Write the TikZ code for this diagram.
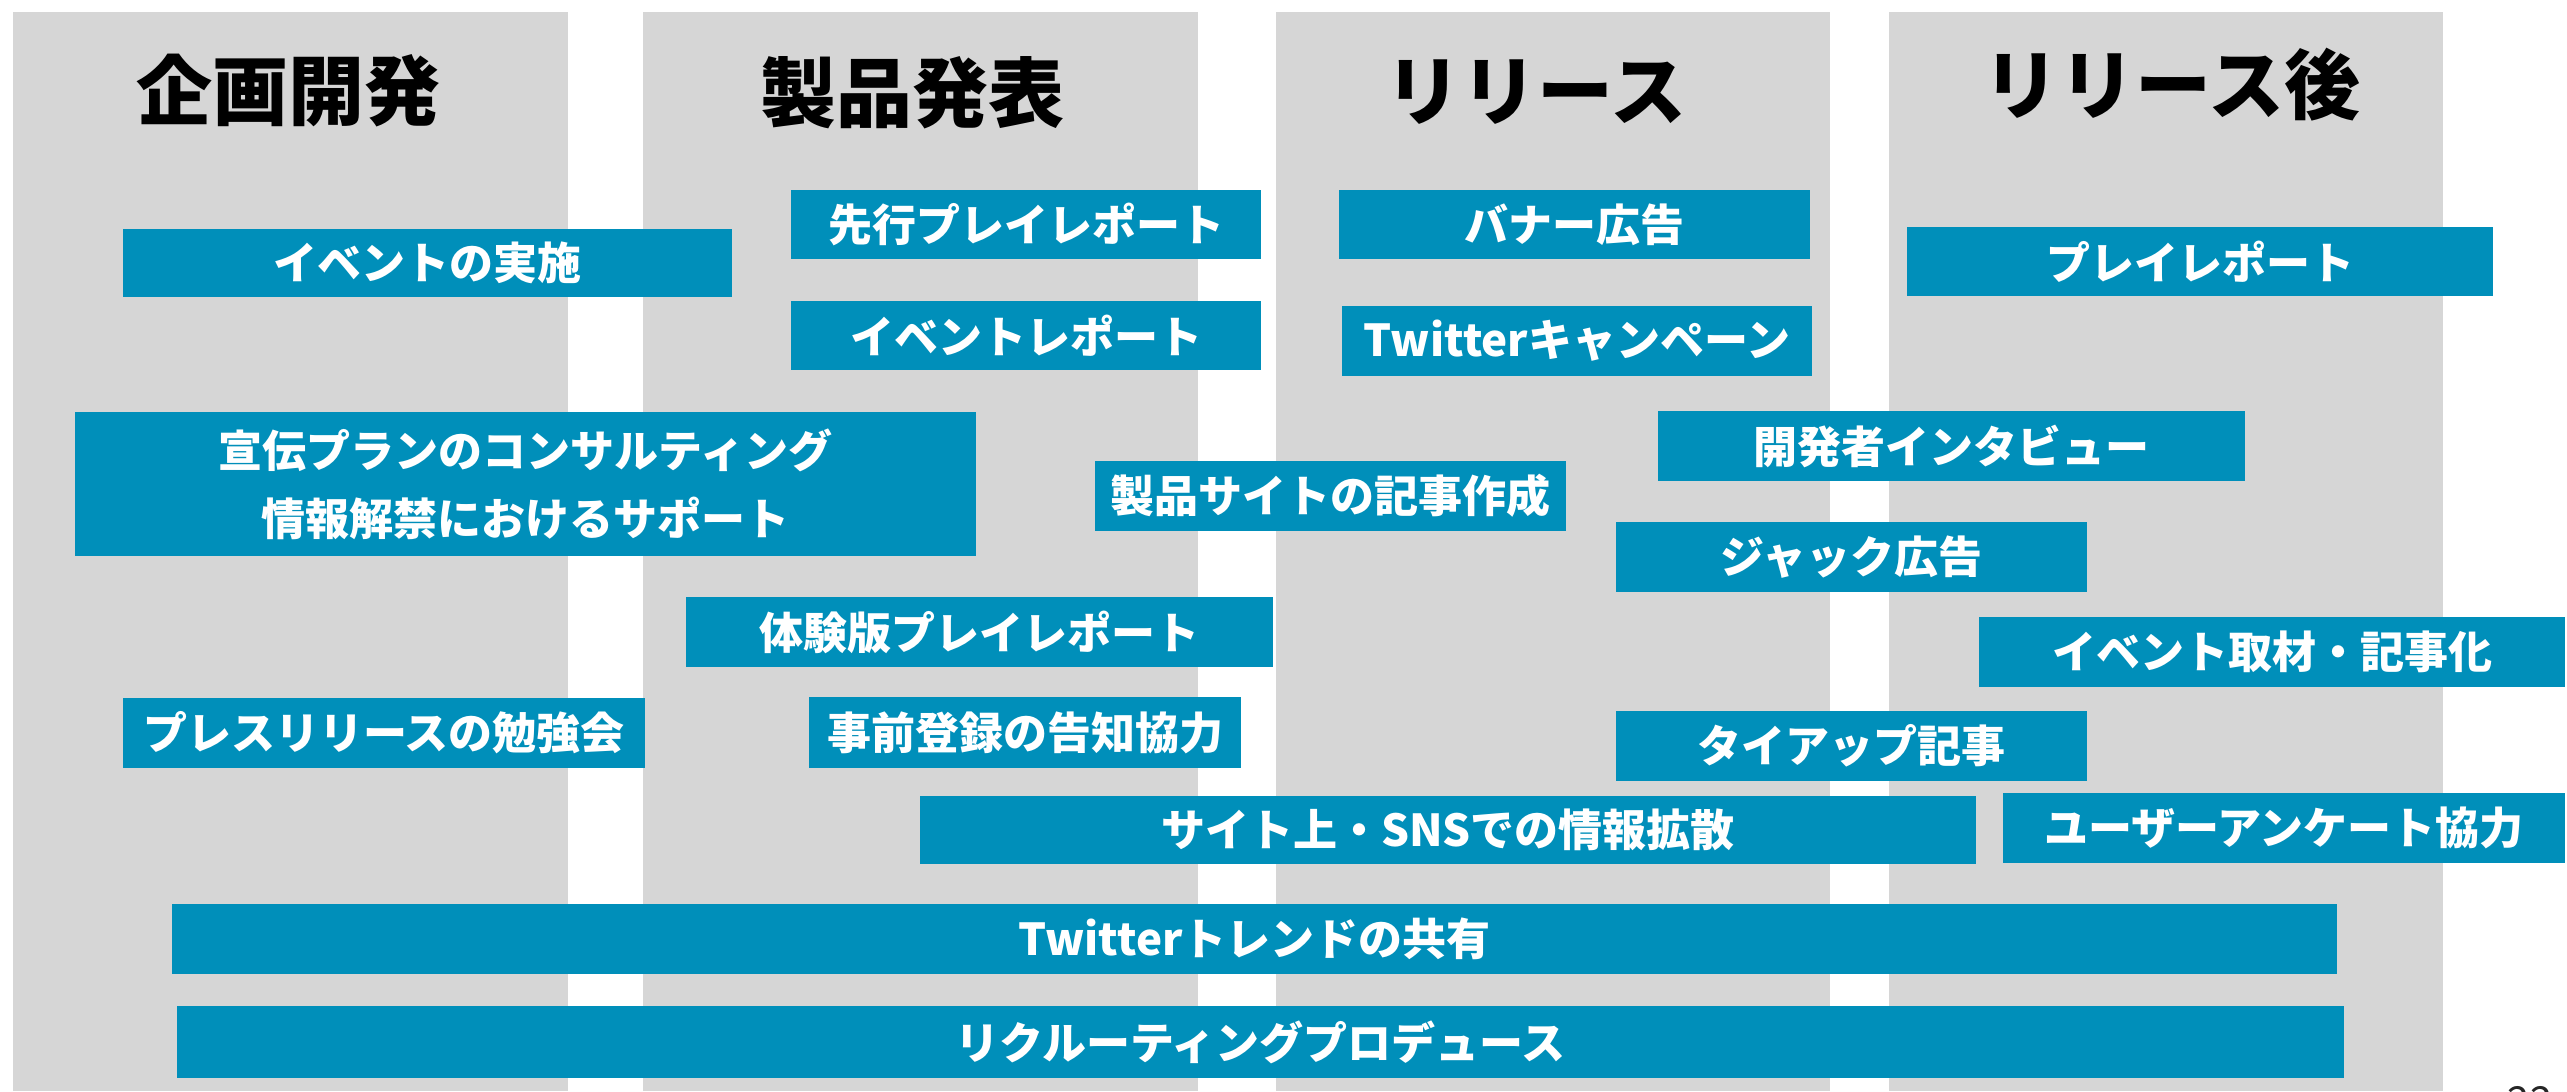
\documentclass[tikz,border=0pt]{standalone}
\usepackage{fontspec}
\setmainfont{Noto Sans CJK JP}
\definecolor{colgrey}{RGB}{214,214,214}
\definecolor{boxblue}{RGB}{0,143,186}
\tikzset{
  colbg/.style={fill=colgrey, draw=none, inner sep=0pt},
  box/.style={fill=boxblue, draw=none, inner sep=0pt, text=white, font=\bfseries\fontsize{22}{26}\selectfont},
  head/.style={font=\bfseries\fontsize{38}{44}\selectfont, text=black, inner sep=0pt},
}
\newcommand\bx[6]{\node[box, minimum width={(#4-#2)*0.5pt}, minimum height={(#5-#3)*0.5pt}] (#1) at ({(#2+#4)/2},{(#3+#5)/2}) {#6};}
\newcommand\colrect[5]{\node[colbg, anchor=north west, minimum width={(#4-#2)*0.5pt}, minimum height={(#5-#3)*0.5pt}] (#1) at (#2,#3) {};}
\begin{document}
\begin{tikzpicture}[x=0.5pt,y=-0.5pt]
\useasboundingbox (0,0) rectangle (2567,1091);
\fill[white] (0,0) rectangle (2567,1091);
% columns
\colrect{c1}{13}{12}{568}{1091}
\colrect{c2}{643}{12}{1198}{1091}
\colrect{c3}{1276}{12}{1830}{1091}
\colrect{c4}{1889}{12}{2443}{1091}
% headers
\node[head] (h1) at (288,91) {企画開発};
\node[head] (h2) at (912,93) {製品発表};
\node[head] (h3) at (1536,92) {リリース};
\node[head] (h4) at (2172,85) {リリース後};
% boxes
\bx{b1}{123}{229}{732}{297}{イベントの実施}
\bx{b2}{791}{190}{1261}{259}{先行プレイレポート}
\bx{b3}{791}{301}{1261}{370}{イベントレポート}
\bx{b4}{1339}{190}{1810}{259}{バナー広告}
\bx{b5}{1342}{306}{1812}{376}{Twitterキャンペーン}
\bx{b6}{1907}{227}{2493}{296}{プレイレポート}
\node[box, minimum width={901*0.5pt}, minimum height={144*0.5pt}, align=center, font=\bfseries\fontsize{22}{34}\selectfont] (b7) at (525.5,484) {宣伝プランのコンサルティング\\情報解禁におけるサポート};
\bx{b8}{1095}{461}{1566}{531}{製品サイトの記事作成}
\bx{b9}{1658}{411}{2245}{481}{開発者インタビュー}
\bx{b10}{1616}{522}{2087}{592}{ジャック広告}
\bx{b11}{686}{597}{1273}{667}{体験版プレイレポート}
\bx{b12}{1979}{617}{2565}{687}{イベント取材・記事化}
\bx{b13}{123}{698}{645}{768}{プレスリリースの勉強会}
\bx{b14}{809}{697}{1241}{768}{事前登録の告知協力}
\bx{b15}{1616}{711}{2087}{781}{タイアップ記事}
\bx{b16}{920}{796}{1976}{864}{サイト上・SNSでの情報拡散}
\bx{b17}{2003}{793}{2565}{863}{ユーザーアンケート協力}
\bx{b18}{172}{904}{2337}{974}{Twitterトレンドの共有}
\bx{b19}{177}{1006}{2344}{1078}{リクルーティングプロデュース}
% page number (mostly cut off)
\node[anchor=north, inner sep=0pt, font=\fontsize{20}{24}\selectfont, text=black!85] (pg) at (2530,1086) {22};
\end{tikzpicture}
\end{document}
